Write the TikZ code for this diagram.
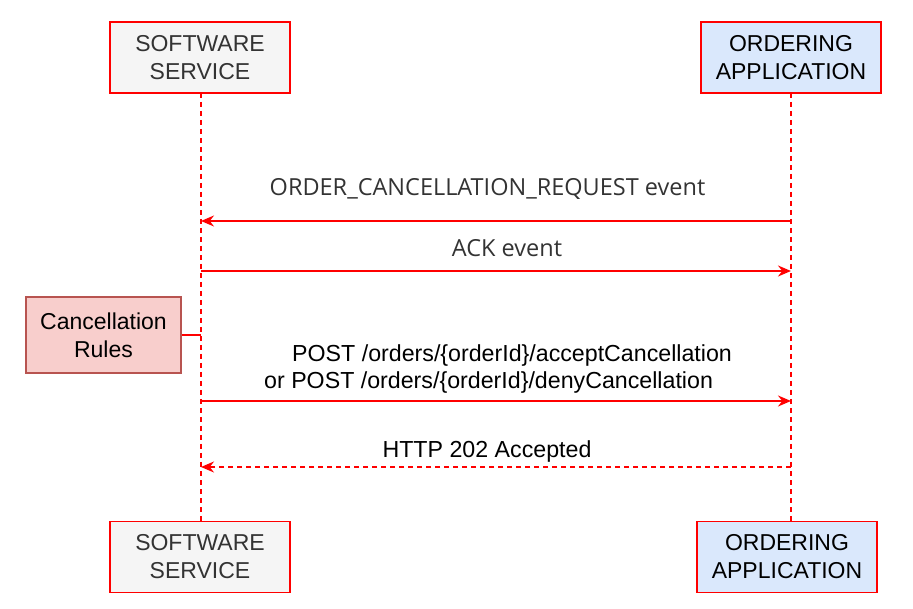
\documentclass[tikz,border=0pt]{standalone}
\usepackage{fontspec}
\setmainfont{Liberation Sans}
\newfontfamily\osans{Open Sans}
\usetikzlibrary{arrows.meta}
\definecolor{txtgray}{HTML}{333333}
\definecolor{swfill}{HTML}{F5F5F5}
\definecolor{oafill}{HTML}{DAE8FC}
\definecolor{crfill}{HTML}{F8CECC}
\definecolor{crline}{HTML}{B85450}
\definecolor{myred}{HTML}{FF0000}
\tikzset{
  actor/.style={draw=myred, line width=1.6pt, minimum width=180pt, minimum height=71pt, inner sep=0pt, align=center, font=\fontsize{23}{28}\selectfont},
  life/.style={draw=myred, line width=1.3pt, dash pattern=on 5pt off 4pt},
  msg/.style={draw=myred, line width=1.8pt, -{Stealth[length=13pt,width=11pt]}},
  rmsg/.style={msg, dash pattern=on 5pt off 4pt},
  lbl/.style={font=\fontsize{23.2}{28}\selectfont, inner sep=0pt},
  olbl/.style={font=\osans\fontsize{23.5}{28}\selectfont, text=txtgray, inner sep=0pt},
}
\begin{document}
\begin{tikzpicture}[x=1pt,y=-1pt]
\useasboundingbox (0,0) rectangle (913,609);
\node[actor, fill=swfill, text=txtgray] (swT) at (200,57.5) {SOFTWARE\\SERVICE};
\node[actor, fill=oafill] (oaT) at (791,57.5) {ORDERING\\APPLICATION};
\node[actor, fill=swfill, text=txtgray] (swB) at (200,557) {SOFTWARE\\SERVICE};
\node[actor, fill=oafill] (oaB) at (787,557) {ORDERING\\APPLICATION};
\coordinate (swTb) at (201,93);
\coordinate (swBt) at (201,522);
\coordinate (oaTb) at (791,93);
\coordinate (oaBt) at (791,522);
\draw[life] (swTb) -- (swBt);
\draw[life] (oaTb) -- (oaBt);
% messages
\coordinate (a1r) at (791,221); \coordinate (a1l) at (201,221);
\draw[msg, line width=1.3pt] (a1r) -- (a1l);
\node[olbl] (l1) at (487.5,189) {ORDER\_CANCELLATION\_REQUEST event};
\coordinate (a2l) at (201,271); \coordinate (a2r) at (791,271);
\draw[msg] (a2l) -- (a2r);
\node[olbl] (l2) at (507,248.5) {ACK event};
% cancellation rules
\node[draw=crline, line width=1.2pt, fill=crfill, minimum width=155pt, minimum height=76pt, inner sep=0pt, align=center, font=\fontsize{23}{28}\selectfont] (cr) at (103.5,335) {Cancellation\\Rules};
\coordinate (crl) at (201,335);
\draw[myred, line width=1.3pt] (cr.east) -- (crl);
\coordinate (a3l) at (201,401); \coordinate (a3r) at (791,401);
\draw[msg] (a3l) -- (a3r);
\node[lbl, anchor=west] (l3a) at (292,355.5) {POST /orders/\{orderId\}/acceptCancellation};
\node[lbl, anchor=west] (l3b) at (264,382.5) {or POST /orders/\{orderId\}/denyCancellation};
\coordinate (a4r) at (791,467); \coordinate (a4l) at (201,467);
\draw[rmsg, line width=1.3pt] (a4r) -- (a4l);
\node[lbl] (l4) at (487,451.5) {HTTP 202 Accepted};
\end{tikzpicture}
\end{document}
